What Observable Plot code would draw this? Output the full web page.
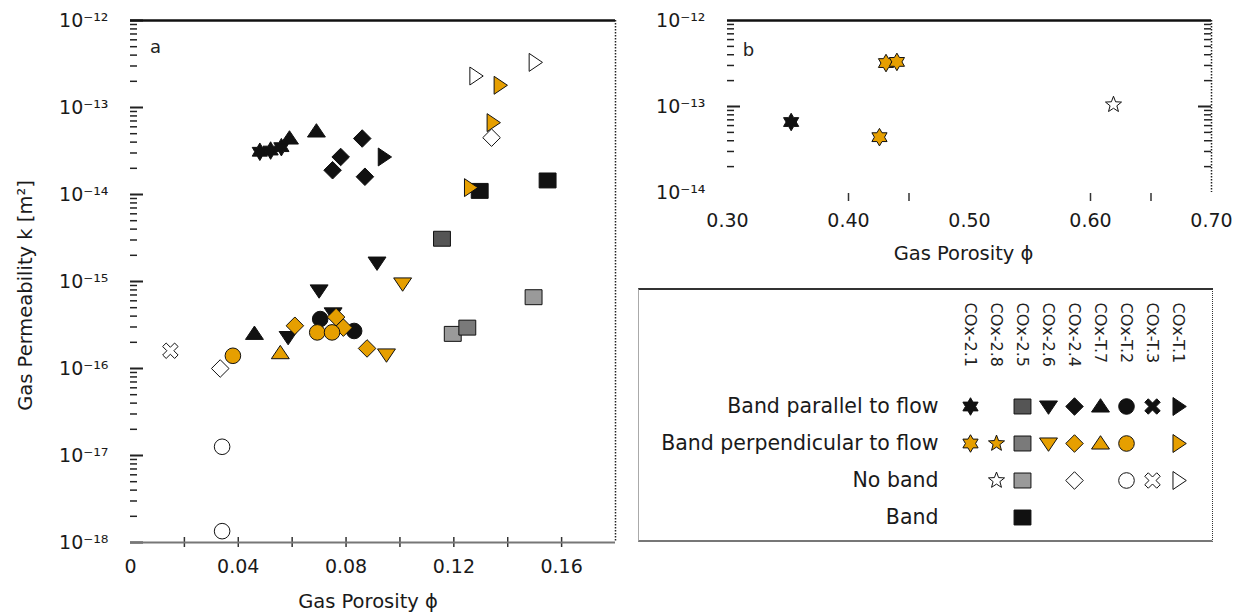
<!DOCTYPE html>
<html><head><meta charset="utf-8">
<script src="https://cdn.jsdelivr.net/npm/d3@7"></script>
<script src="https://cdn.jsdelivr.net/npm/@observablehq/plot@0.6"></script>
<style>
body{margin:0;background:#fff;}
#wrap{position:relative;width:1236px;height:615px;font-family:"DejaVu Sans",sans-serif;overflow:hidden;}
#wrap svg{position:absolute;overflow:visible;}
#legendBox{position:absolute;left:638px;top:288px;width:573px;height:250px;border-top:2px solid #333;border-bottom:2px solid #777;border-left:1px solid #aaa;border-right:1.5px dotted #333;}
</style></head><body><div id="wrap"><div id="legendBox"></div></div>
<script>
// ---------- categories ----------
const columns = ["COx-2.1","COx-2.8","COx-2.5","COx-2.6","COx-2.4","COx-T.7","COx-T.2","COx-T.3","COx-T.1"];
const columnSymbols = ["hexagram","star","square","triangle-down","diamond","triangle-up","circle","x-cross","triangle-right"];
const bandTypes = ["Band parallel to flow","Band perpendicular to flow","No band","Band"];

// ---------- left panel data: [column, gas porosity, gas permeability m²] ----------
const leftParallel = [
  ["COx-2.1",0.048,3.1e-14],["COx-2.1",0.052,3.2e-14],["COx-2.1",0.056,3.5e-14],
  ["COx-T.7",0.059,4.4e-14],["COx-T.7",0.069,5.3e-14],["COx-T.7",0.046,2.5e-16],
  ["COx-2.4",0.086,4.4e-14],["COx-2.4",0.078,2.7e-14],["COx-2.4",0.075,1.9e-14],["COx-2.4",0.087,1.6e-14],
  ["COx-T.1",0.094,2.7e-14],
  ["COx-2.6",0.0915,1.65e-15],["COx-2.6",0.070,7.9e-16],["COx-2.6",0.0585,2.3e-16],["COx-2.6",0.0752,4.3e-16],
  ["COx-T.2",0.0704,3.7e-16],["COx-T.2",0.083,2.7e-16],
  ["COx-2.5",0.1156,3.1e-15]
];
const leftPerpendicular = [
  ["COx-T.1",0.137,1.8e-13],["COx-T.1",0.1344,6.7e-14],["COx-T.1",0.126,1.2e-14],
  ["COx-2.6",0.101,9.5e-16],["COx-2.6",0.095,1.45e-16],
  ["COx-2.4",0.061,3.1e-16],["COx-2.4",0.079,2.95e-16],["COx-2.4",0.0878,1.7e-16],["COx-2.4",0.0763,3.9e-16],
  ["COx-T.7",0.0556,1.5e-16],
  ["COx-T.2",0.038,1.4e-16],["COx-T.2",0.0693,2.6e-16],["COx-T.2",0.0748,2.6e-16],
  ["COx-2.5",0.125,2.95e-16]
];
const leftNoBand = [
  ["COx-T.1",0.128,2.3e-13],["COx-T.1",0.150,3.3e-13],
  ["COx-2.4",0.134,4.5e-14],["COx-2.4",0.0333,1.0e-16],
  ["COx-T.3",0.0148,1.6e-16],
  ["COx-T.2",0.034,1.26e-17],["COx-T.2",0.034,1.35e-18],
  ["COx-2.5",0.1496,6.6e-16],["COx-2.5",0.1196,2.5e-16]
];
const leftBand = [["COx-2.5",0.1296,1.1e-14],["COx-2.5",0.1548,1.45e-14]];

// ---------- right panel data ----------
const rightParallel = [["COx-2.1",0.3526,6.6e-14]];
const rightPerpendicular = [["COx-2.1",0.431,3.2e-13],["COx-2.1",0.440,3.3e-13],["COx-2.1",0.4256,4.4e-14]];
const rightNoBand = [["COx-2.8",0.619,1.05e-13]];

// ---------- legend table ----------
const legendParallel = ["COx-2.1","COx-2.5","COx-2.6","COx-2.4","COx-T.7","COx-T.2","COx-T.3","COx-T.1"];
const legendPerpendicular = ["COx-2.1","COx-2.8","COx-2.5","COx-2.6","COx-2.4","COx-T.7","COx-T.2","COx-T.1"];
const legendNoBand = ["COx-2.8","COx-2.5","COx-2.4","COx-T.2","COx-T.3","COx-T.1"];
const legendBand = ["COx-2.5"];

// ---------- ticks ----------
const leftXTicks = [0,0.04,0.08,0.12,0.16];
const leftXMinor = [0.02,0.04,0.06,0.08,0.10,0.12,0.14,0.16];
const leftDecades = [1e-18,1e-17,1e-16,1e-15,1e-14,1e-13,1e-12];
const rightXTicks = [0.30,0.40,0.50,0.60,0.70];
const rightXMinor = [0.40,0.45,0.60,0.65];
const rightDecades = [1e-14,1e-13,1e-12];

// ---------- styles ----------
const fillKeys = ["parallel","perpendicular","none","band","sq-parallel","sq-perpendicular","sq-none"];
const fillColors = ["#111111","#E69F00","#ffffff","#111111","#555555","#7a7a7a","#9a9a9a"];
const FONT = "'DejaVu Sans', sans-serif";

function polygon(pts){return {draw(ctx,size){const r=Math.sqrt(size/Math.PI);pts.forEach(([px,py],i)=>i?ctx.lineTo(px*r,py*r):ctx.moveTo(px*r,py*r));ctx.closePath();}};}
function starPts(n,outer,inner){const p=[];for(let i=0;i<2*n;i++){const a=-Math.PI/2+i*Math.PI/n;const rr=i%2?inner:outer;p.push([rr*Math.cos(a),rr*Math.sin(a)]);}return p;}
function xPts(){const a=0.38,L=1.3;const p=[[a,-L],[a,-a],[L,-a],[L,a],[a,a],[a,L],[-a,L],[-a,a],[-L,a],[-L,-a],[-a,-a],[-a,-L]];const c=Math.SQRT1_2;return p.map(([x,y])=>[c*(x-y),c*(x+y)]);}
const SYMBOLS = {
  "hexagram": polygon(starPts(6,1.35,1.35/Math.sqrt(3))),
  "star": polygon(starPts(5,1.3,0.55)),
  "square": polygon([[-1.3,-1.15],[1.3,-1.15],[1.3,1.15],[-1.3,1.15]]),
  "triangle-down": polygon([[-1.38,-0.85],[1.38,-0.85],[0,1.2]]),
  "triangle-up": polygon([[0,-1.2],[1.38,0.85],[-1.38,0.85]]),
  "triangle-right": polygon([[1.2,0],[-0.85,1.38],[-0.85,-1.38]]),
  "diamond": polygon([[0,-1.35],[1.35,0],[0,1.35],[-1.35,0]]),
  "circle": {draw(ctx,size){const R=1.2*Math.sqrt(size/Math.PI);ctx.moveTo(R,0);ctx.arc(0,0,R,0,2*Math.PI);ctx.closePath();}},
  "x-cross": polygon(xPts())
};
const symbolRange = columnSymbols.map(s=>SYMBOLS[s]);
const fillKey = (type,col)=> (col==="COx-2.5" && type!=="band") ? "sq-"+type : type;
const rows = (arr,type)=>arr.map(([col,phi,k])=>({col,phi,k,key:fillKey(type,col)}));

const sup = {"-":"\u207B","0":"\u2070","1":"\u00B9","2":"\u00B2","3":"\u00B3","4":"\u2074","5":"\u2075","6":"\u2076","7":"\u2077","8":"\u2078","9":"\u2079"};
const fmtPow = d => "10" + String(Math.round(Math.log10(d))).replace(/./g,c=>sup[c]);
function minors(decs){const out=[];for(let i=0;i<decs.length-1;i++)for(let m=2;m<=9;m++)out.push(m*decs[i]);return out;}

const dotOpts = {x:"phi", y:"k", symbol:"col", fill:"key", stroke:"#111", strokeWidth:1, r:6.5};
const wrap = document.getElementById("wrap");

// ---------- left panel ----------
const leftData = [...rows(leftBand,"band"),...rows(leftParallel,"parallel"),...rows(leftNoBand,"none"),...rows(leftPerpendicular,"perpendicular")];
const pxL = 0.18/485, decL = 1/87;
const left = Plot.plot({
  width:640, height:615, marginLeft:130, marginRight:25, marginTop:20, marginBottom:73,
  style:{fontFamily:FONT, fontSize:"19px", color:"#1a1a1a", background:"transparent", overflow:"visible"},
  x:{domain:[0,0.18]},
  y:{type:"log", domain:[1e-18,1e-12]},
  symbol:{domain:columns, range:symbolRange},
  color:{type:"ordinal", domain:fillKeys, range:fillColors},
  marks:[
    Plot.axisX({ticks:leftXTicks, tickSize:0, tickPadding:17, tickFormat:d=>d===0?"0":d.toFixed(2), label:null, fontSize:19}),
    Plot.axisY({ticks:leftDecades, tickSize:0, tickPadding:22, tickFormat:fmtPow, label:null, fontSize:19}),
    Plot.ruleY(leftDecades, {x1:0, x2:13*pxL, stroke:"#222", strokeWidth:2}),
    Plot.ruleY(minors(leftDecades), {x1:0, x2:7*pxL, stroke:"#222", strokeWidth:1.5}),
    Plot.ruleX(leftXMinor, {y1:1e-18*Math.pow(10,5*decL), y2:1e-18/Math.pow(10,5*decL), stroke:"#333", strokeWidth:1.5}),
    Plot.ruleY([1e-18], {stroke:"#777", strokeWidth:2}),
    Plot.ruleY([1e-12], {stroke:"#111", strokeWidth:2.5}),
    Plot.ruleX([0.18], {stroke:"#222", strokeWidth:1.5, strokeDasharray:"1.5,1.5"}),
    Plot.dot(leftData, dotOpts),
    Plot.text(["a"], {frameAnchor:"top-left", dx:25, dy:27, textAnchor:"middle", lineAnchor:"middle", fontSize:18, fill:"#222"}),
    Plot.text(["Gas Permeability k [m\u00B2]"], {frameAnchor:"left", rotate:-90, textAnchor:"middle", lineAnchor:"middle", dx:-105, dy:14, fontSize:19.5, fill:"#1a1a1a"}),
    Plot.text(["Gas Porosity \u03D5"], {frameAnchor:"bottom", textAnchor:"middle", lineAnchor:"middle", dx:-5, dy:59, fontSize:19.5, fill:"#1a1a1a"})
  ]
});
left.style.left="0px"; left.style.top="0px";
wrap.appendChild(left);

// ---------- right panel ----------
const rightData = [...rows(rightParallel,"parallel"),...rows(rightNoBand,"none"),...rows(rightPerpendicular,"perpendicular")];
const pxR = 0.40/484, decR = 1/86;
const right = Plot.plot({
  width:616, height:270, marginLeft:107, marginRight:25, marginTop:20, marginBottom:78,
  style:{fontFamily:FONT, fontSize:"19px", color:"#1a1a1a", background:"transparent", overflow:"visible"},
  x:{domain:[0.30,0.70]},
  y:{type:"log", domain:[1e-14,1e-12]},
  symbol:{domain:columns, range:symbolRange},
  color:{type:"ordinal", domain:fillKeys, range:fillColors},
  marks:[
    Plot.axisX({ticks:rightXTicks, tickSize:0, tickPadding:21, tickFormat:d=>d.toFixed(2), label:null, fontSize:19}),
    Plot.axisY({ticks:rightDecades, tickSize:0, tickPadding:22, tickFormat:fmtPow, label:null, fontSize:19}),
    Plot.ruleY(rightDecades.slice(1,2), {x1:0.30, x2:0.30+13*pxR, stroke:"#222", strokeWidth:2}),
    Plot.ruleY(minors(rightDecades), {x1:0.30, x2:0.30+7*pxR, stroke:"#222", strokeWidth:1.5}),
    Plot.ruleY(rightDecades.slice(1,2), {x1:0.70-13*pxR, x2:0.70, stroke:"#222", strokeWidth:2}),
    Plot.ruleY(minors(rightDecades), {x1:0.70-7*pxR, x2:0.70, stroke:"#222", strokeWidth:1.5}),
    Plot.ruleX(rightXMinor, {y1:1e-14/Math.pow(10,1*decR), y2:1e-14/Math.pow(10,9*decR), stroke:"#333", strokeWidth:1.5}),
    Plot.ruleY([1e-12], {stroke:"#111", strokeWidth:2.5}),
    Plot.ruleX([0.70], {stroke:"#222", strokeWidth:1.5, strokeDasharray:"1.5,1.5"}),
    Plot.dot(rightData, dotOpts),
    Plot.text(["b"], {frameAnchor:"top-left", dx:21, dy:30, textAnchor:"middle", lineAnchor:"middle", fontSize:18, fill:"#222"}),
    Plot.text(["Gas Porosity \u03D5"], {frameAnchor:"bottom", textAnchor:"middle", lineAnchor:"middle", dx:-6, dy:61, fontSize:19.5, fill:"#1a1a1a"})
  ]
});
right.style.left="620px"; right.style.top="0px";
wrap.appendChild(right);

// ---------- legend table ----------
const legendCells = [
  ...legendParallel.map(col=>({col,row:bandTypes[0],key:fillKey("parallel",col)})),
  ...legendPerpendicular.map(col=>({col,row:bandTypes[1],key:fillKey("perpendicular",col)})),
  ...legendNoBand.map(col=>({col,row:bandTypes[2],key:fillKey("none",col)})),
  ...legendBand.map(col=>({col,row:bandTypes[3],key:fillKey("band",col)}))
];
const legend = Plot.plot({
  width:574, height:254, marginLeft:0, marginRight:0, marginTop:0, marginBottom:0,
  style:{fontFamily:FONT, fontSize:"20px", color:"#1a1a1a", background:"transparent", overflow:"visible"},
  x:{type:"point", domain:columns, range:[328,543], padding:0, axis:null},
  y:{type:"point", domain:bandTypes, range:[118,229], padding:0, axis:null},
  symbol:{domain:columns, range:symbolRange},
  color:{type:"ordinal", domain:fillKeys, range:fillColors},
  marks:[
    Plot.text(bandTypes, {y:d=>d, frameAnchor:"left", dx:300, textAnchor:"end", lineAnchor:"middle", fontSize:20.5, fill:"#1a1a1a"}),
    Plot.text(columns, {x:d=>d, frameAnchor:"top", rotate:90, textAnchor:"start", lineAnchor:"middle", dy:14, fontSize:16, fill:"#222"}),
    Plot.dot(legendCells, {x:"col", y:"row", symbol:"col", fill:"key", stroke:"#111", strokeWidth:1, r:6.5})
  ]
});
legend.style.left="638px"; legend.style.top="288px";
wrap.appendChild(legend);
</script>
</body></html>
